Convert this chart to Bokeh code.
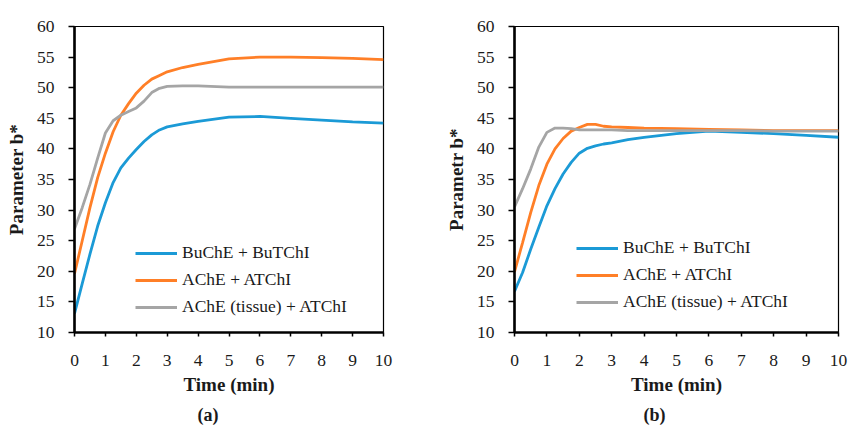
from bokeh.plotting import figure
from bokeh.layouts import row
from bokeh.models import Range1d, FixedTicker, Legend, LegendItem, Title
from bokeh.embed import file_html
from bokeh.resources import INLINE

# ---- data ----
time_min = [0, 0.25, 0.5, 0.75, 1, 1.25, 1.5, 1.75, 2, 2.25, 2.5, 2.75, 3, 3.5, 4, 5, 6, 7, 8, 9, 10]

a_buche = [13.1, 18.0, 22.8, 27.4, 31.2, 34.5, 36.9, 38.5, 39.9, 41.2, 42.3, 43.1, 43.6, 44.1, 44.5, 45.2, 45.3, 45.0, 44.7, 44.4, 44.2]
a_ache = [19.6, 25.0, 30.4, 35.3, 39.3, 42.8, 45.5, 47.4, 49.1, 50.4, 51.4, 52.0, 52.6, 53.3, 53.8, 54.7, 55.0, 55.0, 54.9, 54.8, 54.6]
a_tissue = [26.9, 30.4, 34.2, 38.5, 42.6, 44.6, 45.5, 46.1, 46.7, 47.8, 49.2, 49.9, 50.2, 50.3, 50.3, 50.1, 50.1, 50.1, 50.1, 50.1, 50.1]

b_buche = [16.7, 19.8, 23.6, 27.2, 30.7, 33.5, 35.9, 37.8, 39.3, 40.1, 40.5, 40.8, 41.0, 41.5, 41.9, 42.5, 42.9, 42.7, 42.5, 42.2, 41.9]
b_ache = [19.9, 24.7, 29.6, 34.0, 37.5, 40.0, 41.7, 42.9, 43.5, 44.0, 44.0, 43.7, 43.6, 43.5, 43.4, 43.3, 43.2, 43.1, 43.0, 43.0, 43.0]
b_tissue = [30.5, 33.5, 36.7, 40.3, 42.7, 43.4, 43.4, 43.3, 43.1, 43.1, 43.1, 43.1, 43.1, 43.0, 43.0, 43.0, 43.0, 43.0, 42.9, 42.9, 42.9]

series_names = ["BuChE + BuTChI", "AChE + ATChI", "AChE (tissue) + ATChI"]
series_colors = ["#1b9ad6", "#ff7f27", "#a5a5a5"]
x_ticks = list(range(0, 11))
y_ticks = list(range(10, 61, 5))

FONT = "Liberation Serif"
TXT = "#1a1a1a"


def make_panel(series, ylabel, caption, width, left, right, top, legend_xy, cap_offset):
    p = figure(width=width, height=429, output_backend="svg", toolbar_location=None,
               x_range=Range1d(0, 10), y_range=Range1d(10, 60),
               min_border_left=left, min_border_right=right,
               min_border_top=top, min_border_bottom=429 - 332)
    p.background_fill_color = "white"
    p.border_fill_color = "white"
    p.outline_line_color = "black"
    p.outline_line_width = 1.2
    p.xgrid.visible = False
    p.ygrid.visible = False

    items = []
    for ys, name, col in zip(series, series_names, series_colors):
        r = p.line(time_min, ys, line_color=col, line_width=2.8)
        items.append(LegendItem(label=name, renderers=[r]))

    for ax in (p.xaxis[0], p.yaxis[0]):
        ax.axis_line_width = 2.6
        ax.axis_line_color = "black"
        ax.major_tick_line_color = "black"
        ax.major_tick_line_width = 1.5
        ax.major_tick_in = 0
        ax.minor_tick_line_color = None
        ax.major_label_text_font = FONT
        ax.major_label_text_font_size = "17.5px"
        ax.major_label_text_color = TXT
        ax.axis_label_text_font = FONT
        ax.axis_label_text_font_size = "19px"
        ax.axis_label_text_font_style = "bold"
        ax.axis_label_text_color = TXT

    p.xaxis.ticker = FixedTicker(ticks=x_ticks)
    p.yaxis.ticker = FixedTicker(ticks=y_ticks)
    p.xaxis.major_tick_out = 4
    p.yaxis.major_tick_out = 6
    p.xaxis.major_label_standoff = 18
    p.yaxis.major_label_standoff = 14
    p.xaxis.axis_label = "Time (min)"
    p.yaxis.axis_label = ylabel
    p.xaxis.axis_label_standoff = 5
    p.yaxis.axis_label_standoff = 7

    leg = Legend(items=items, location=legend_xy, orientation="vertical",
                 glyph_width=42, glyph_height=20, label_height=20, spacing=6,
                 label_standoff=5, padding=0, margin=0,
                 border_line_alpha=0, background_fill_alpha=0,
                 label_text_font=FONT, label_text_font_size="17.5px",
                 label_text_color=TXT)
    p.add_layout(leg, "center")

    cap = Title(text=caption, align="left", offset=cap_offset, standoff=10,
                text_font=FONT, text_font_size="18px", text_font_style="bold",
                text_color=TXT)
    p.add_layout(cap, "below")
    return p


pa = make_panel([a_buche, a_ache, a_tissue], "Parameter b*", "(a)",
                width=420, left=74, right=37, top=24, legend_xy=(61, 15), cap_offset=123)
pb = make_panel([b_buche, b_ache, b_tissue], "Parametr b*", "(b)",
                width=429, left=94, right=11, top=26, legend_xy=(62, 20), cap_offset=129)

layout = row(pa, pb, spacing=0)

open("out.html", "w").write(file_html(layout, INLINE))
